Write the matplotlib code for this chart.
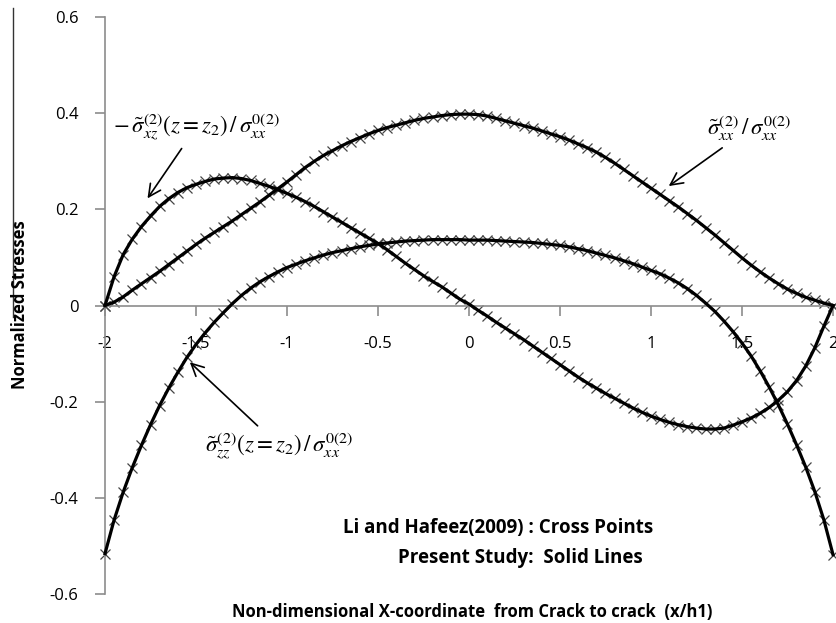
import numpy as np
import matplotlib
matplotlib.use("Agg")
import matplotlib.pyplot as plt
from matplotlib.lines import Line2D

# x/h1 from crack to crack
x = np.round(np.arange(-2.0, 2.0001, 0.05), 2)

# sigma_xx^(2) / sigma_xx^0(2)
sig_mid = [0.000, 0.007, 0.018, 0.032, 0.045, 0.058, 0.071, 0.085, 0.099, 0.113,
           0.127, 0.140, 0.152, 0.164, 0.176, 0.189, 0.202, 0.215, 0.229, 0.243,
           0.257, 0.272, 0.287, 0.300, 0.312, 0.322, 0.332, 0.341, 0.349, 0.357,
           0.364, 0.370, 0.375, 0.380, 0.385, 0.389, 0.392, 0.395, 0.397, 0.398,
           0.398,
           0.397, 0.394, 0.389, 0.384, 0.379, 0.374, 0.369, 0.363, 0.357, 0.351,
           0.344, 0.336, 0.328, 0.319, 0.308, 0.296, 0.283, 0.270, 0.257, 0.244,
           0.231, 0.218, 0.205, 0.191, 0.177, 0.162, 0.147, 0.131, 0.115, 0.099,
           0.084, 0.070, 0.057, 0.045, 0.034, 0.025, 0.017, 0.011, 0.005, 0.000]

# - sigma_xz^(2)(z=z2) / sigma_xx^0(2)
sig_xz = [0.000, 0.060, 0.106, 0.138, 0.164, 0.186, 0.206, 0.222, 0.235, 0.245,
          0.252, 0.258, 0.263, 0.265, 0.266, 0.264, 0.260, 0.254, 0.248, 0.241,
          0.233, 0.225, 0.216, 0.206, 0.195, 0.184, 0.173, 0.162, 0.151, 0.140,
          0.129, 0.116, 0.102, 0.088, 0.075, 0.062, 0.050, 0.039, 0.026, 0.013,
          0.003,
          -0.010, -0.022, -0.035, -0.047, -0.059, -0.071, -0.084, -0.097, -0.110, -0.123,
          -0.136, -0.149, -0.161, -0.172, -0.183, -0.193, -0.203, -0.213, -0.222, -0.230,
          -0.237, -0.243, -0.248, -0.252, -0.255, -0.257, -0.257, -0.255, -0.249, -0.242,
          -0.234, -0.224, -0.212, -0.197, -0.179, -0.156, -0.126, -0.088, -0.043, 0.000]

# sigma_zz^(2)(z=z2) / sigma_xx^0(2)
sig_zz = [-0.516, -0.446, -0.388, -0.337, -0.291, -0.248, -0.208, -0.172, -0.139, -0.108,
          -0.081, -0.057, -0.035, -0.015, 0.004, 0.021, 0.036, 0.049, 0.060, 0.070,
          0.079, 0.086, 0.093, 0.099, 0.105, 0.110, 0.114, 0.118, 0.122, 0.125,
          0.128, 0.130, 0.132, 0.134, 0.135, 0.136, 0.137, 0.137, 0.137, 0.137,
          0.136,
          0.136, 0.136, 0.135, 0.134, 0.133, 0.132, 0.131, 0.129, 0.127, 0.125,
          0.122, 0.118, 0.114, 0.109, 0.104, 0.099, 0.093, 0.087, 0.080, 0.073,
          0.066, 0.057, 0.047, 0.035, 0.021, 0.005, -0.012, -0.032, -0.054, -0.078,
          -0.105, -0.136, -0.170, -0.207, -0.247, -0.290, -0.336, -0.387, -0.446, -0.518]

xticks = [-2, -1.5, -1, -0.5, 0, 0.5, 1, 1.5, 2]
xticklabels = ["-2", "-1.5", "-1", "-0.5", "0", "0.5", "1", "1.5", "2"]
yticks = [-0.6, -0.4, -0.2, 0, 0.2, 0.4, 0.6]
yticklabels = ["-0.6", "-0.4", "-0.2", "0", "0.2", "0.4", "0.6"]

plt.rcParams['font.family'] = ['Open Sans', 'DejaVu Sans']
plt.rcParams['mathtext.fontset'] = 'stix'

fig = plt.figure(figsize=(8.37, 6.23), dpi=100)
ax = fig.add_axes([105/837, 1-594/623, 728/837, 577/623])

for y in (sig_mid, sig_xz, sig_zz):
    ax.plot(x, y, color='black', lw=2.3, zorder=3, clip_on=False)
    ax.plot(x, y, ls='none', marker='x', ms=7, mew=0.9, color='#444444', zorder=2, clip_on=False)

ax.set_xlim(-2, 2)
ax.set_ylim(-0.6, 0.6)
ax.spines['top'].set_visible(False)
ax.spines['right'].set_visible(False)
ax.spines['bottom'].set_position(('data', 0))
for s in ('left', 'bottom'):
    ax.spines[s].set_color('#8c8c8c')
    ax.spines[s].set_linewidth(1.2)
ax.set_xticks(xticks)
ax.set_xticklabels(xticklabels)
ax.set_yticks(yticks)
ax.set_yticklabels(yticklabels)
ax.tick_params(axis='x', direction='out', length=7, width=1.2, color='#8c8c8c', pad=15, labelsize=12)
ax.tick_params(axis='y', direction='out', length=7, width=1.2, color='#8c8c8c', pad=12, labelsize=12)

fig.text(20/837, 1-305/623, "Normalized Stresses", rotation=90, ha='center', va='center',
         fontsize=12, fontweight='bold')
fig.text(472/837, 1-612/623, "Non-dimensional X-coordinate  from Crack to crack  (x/h1)",
         ha='center', va='center', fontsize=12, fontweight='bold')
fig.add_artist(Line2D([13/837, 13/837], [1-8/623, 1-317/623], color='#333333', lw=1))

ax.text(653/837, 1-528/623, "Li and Hafeez(2009) : Cross Points", transform=fig.transFigure,
        ha='right', va='center', fontsize=13.5, fontweight='bold')
ax.text(643/837, 1-558/623, "Present Study:  Solid Lines", transform=fig.transFigure,
        ha='right', va='center', fontsize=13.5, fontweight='bold')

arrow = dict(arrowstyle='->', color='black', lw=1.2, mutation_scale=22)
ax.annotate(r'$-\,\tilde{\sigma}_{xz}^{(2)}(z=z_2)\,/\,\sigma_{xx}^{0(2)}$',
            xy=(-1.775, 0.218), xytext=(-1.50, 0.337), arrowprops=arrow,
            fontsize=16.5, ha='center', va='bottom')
ax.annotate(r'$\tilde{\sigma}_{xx}^{(2)}\,/\,\sigma_{xx}^{0(2)}$',
            xy=(1.085, 0.245), xytext=(1.54, 0.337), arrowprops=arrow,
            fontsize=16.5, ha='center', va='bottom')
ax.annotate(r'$\tilde{\sigma}_{zz}^{(2)}(z=z_2)\,/\,\sigma_{xx}^{0(2)}$',
            xy=(-1.545, -0.114), xytext=(-1.041, -0.26), arrowprops=arrow,
            fontsize=16.5, ha='center', va='top')

plt.savefig("out.png", dpi=100)
plt.close()
